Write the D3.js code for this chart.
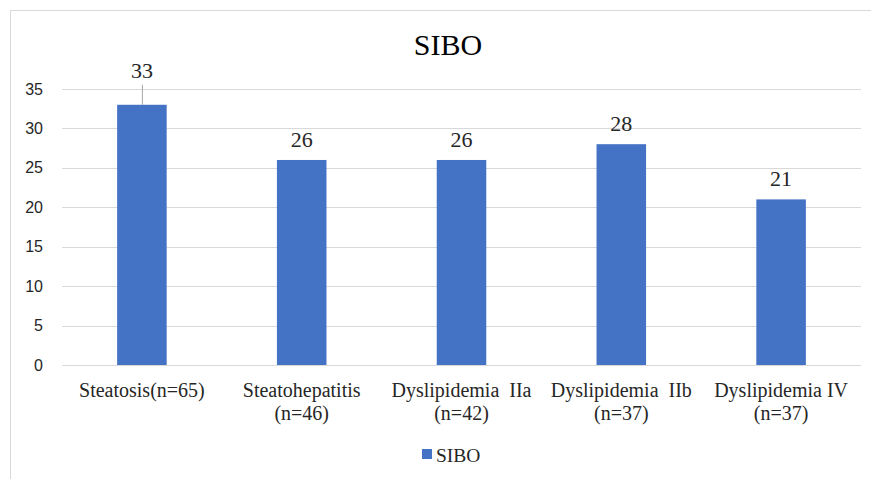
<!DOCTYPE html>
<html><head><meta charset="utf-8">
<script src="https://cdn.jsdelivr.net/npm/d3@7"></script>
<style>body{margin:0;background:#fff}svg{display:block}</style>
</head><body>
<script>
const categories = [["Steatosis(n=65)"],["Steatohepatitis","(n=46)"],["Dyslipidemia  IIa","(n=42)"],["Dyslipidemia  IIb","(n=37)"],["Dyslipidemia IV","(n=37)"]];
const values = [33, 26, 26, 28, 21];
const yTicks = [0,5,10,15,20,25,30,35];
const seriesName = "SIBO";

(function(){
const W=871,H=479;
const serif="Liberation Serif, Times New Roman, serif";
const svg=d3.select("body").append("svg").attr("width",W).attr("height",H);
svg.append("rect").attr("x",10.5).attr("y",10.5).attr("width",W).attr("height",H).attr("fill","#fff").attr("stroke","#d9d9d9");

const pLeft=62,pRight=861,pTop=89,pBottom=365;
const x=d3.scaleBand().domain(d3.range(categories.length)).range([pLeft,pRight]).paddingInner(0.69).paddingOuter(0.345);
const y=d3.scaleLinear().domain([0,35]).range([pBottom,pTop]);

svg.append("g").selectAll("line").data(yTicks).join("line")
 .attr("x1",pLeft).attr("x2",pRight).attr("y1",d=>Math.round(y(d))+0.5).attr("y2",d=>Math.round(y(d))+0.5)
 .attr("stroke","#d9d9d9").attr("stroke-width",1);

const yAxis=svg.append("g").attr("transform",`translate(${pLeft},0)`).call(d3.axisLeft(y).tickValues(yTicks).tickSize(0).tickPadding(19));
yAxis.select(".domain").remove();
yAxis.selectAll("text").attr("font-family","Liberation Sans, Arial, sans-serif").attr("font-size",16).attr("fill","#262626");

svg.append("g").selectAll("rect").data(values).join("rect")
 .attr("x",(d,i)=>x(i)).attr("width",x.bandwidth()).attr("y",d=>y(d)).attr("height",d=>pBottom-y(d)).attr("fill","#4472C4");

const lbl=svg.append("g").attr("font-family",serif).attr("font-size",22).attr("fill","#262626").attr("text-anchor","middle");
values.forEach((v,i)=>{
  const cx=x(i)+x.bandwidth()/2;
  let ly=y(v)-13;
  if(i===0){ ly=y(v)-27; svg.append("line").attr("x1",cx+0.5).attr("x2",cx+0.5).attr("y1",ly+7).attr("y2",y(v)).attr("stroke","#a6a6a6"); }
  lbl.append("text").attr("x",cx).attr("y",ly).text(v);
});

const xl=svg.append("g").attr("font-family",serif).attr("font-size",20).attr("fill","#262626").attr("text-anchor","middle");
categories.forEach((c,i)=>{
  const cx=x(i)+x.bandwidth()/2;
  c.forEach((line,j)=>xl.append("text").attr("x",cx).attr("y",397+j*23).style("white-space","pre").text(line));
});

svg.append("text").attr("x",448).attr("y",55).attr("text-anchor","middle").attr("font-family",serif).attr("font-size",30).attr("fill","#000").text(seriesName);

svg.append("rect").attr("x",422).attr("y",449).attr("width",10).attr("height",10).attr("fill","#4472C4");
svg.append("text").attr("x",436).attr("y",462).attr("font-family",serif).attr("font-size",19.5).attr("fill","#262626").text(seriesName);
})();
</script>
</body></html>
